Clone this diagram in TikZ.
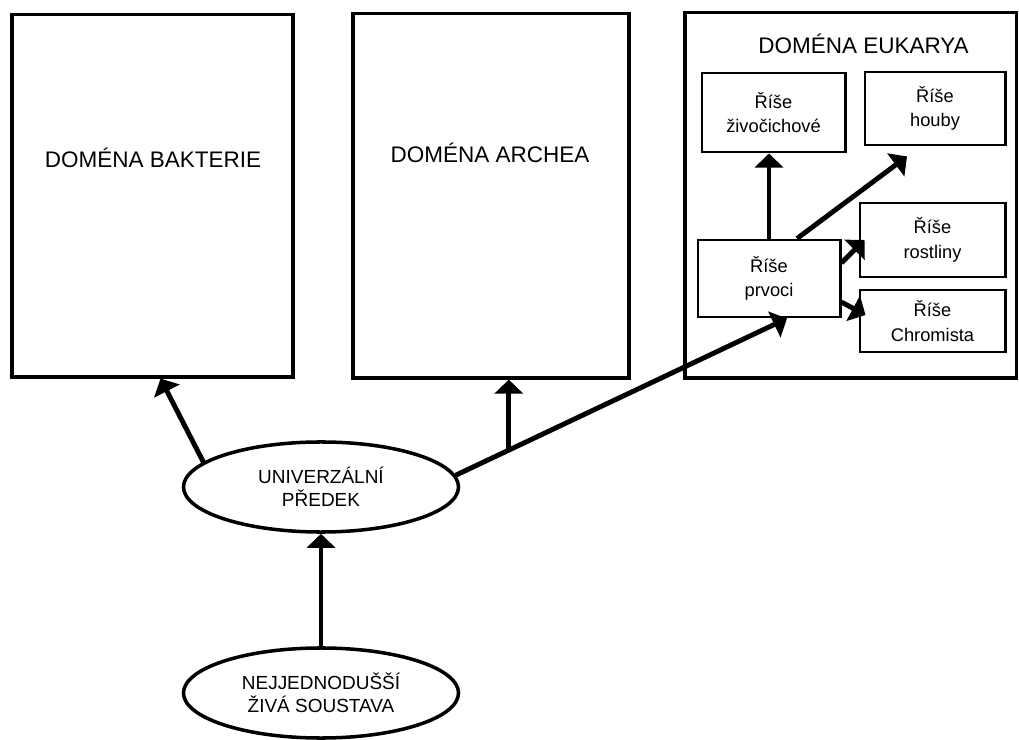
\documentclass[tikz,border=0pt]{standalone}
\usepackage{fontspec}
\setmainfont{Liberation Sans}
\usetikzlibrary{arrows.meta,shapes.geometric,calc}
\begin{document}
\begin{tikzpicture}[x=0.025cm,y=-0.025cm,
		dombox/.style={draw,line width=2.2pt,inner sep=0pt},
		kbox/.style={draw,line width=2.1pt,align=center,inner sep=0pt,font=\fontsize{13}{17.5}\selectfont},
		oval/.style={ellipse,draw,line width=2.5pt,minimum width=6.875cm,minimum height=2.25cm,inner sep=0pt,align=center,font=\fontsize{13.5}{16.5}\selectfont},
		dtitle/.style={font=\fontsize{16}{19}\selectfont},
		arr/.style={line width=3.5pt,-{Triangle[length=10pt,width=20pt]}}]
		\useasboundingbox (0,0) rectangle (1019,740);
		% domains
		\node[dombox,minimum width=7.025cm,minimum height=9.05cm] (bak) at (152.5,196) {};
		\node[dombox,minimum width=6.9cm,minimum height=9.1cm] (arc) at (491,196) {};
		\node[dombox,minimum width=8.275cm,minimum height=9.125cm] (euk) at (850.5,195.5) {};
		\node[dtitle] (bakt) at (153,158) {DOMÉNA BAKTERIE};
		\node[dtitle] (arct) at (490,153) {DOMÉNA ARCHEA};
		\node[dtitle] (eukt) at (863.5,44) {DOMÉNA EUKARYA};
		% kingdoms
		\node[kbox,minimum width=3.575cm,minimum height=1.975cm] (zi) at (773.5,112.5) {Říše\\živočichové};
		\node[kbox,minimum width=3.5cm,minimum height=1.825cm] (ho) at (935,108.5) {Říše\\houby};
		\node[kbox,minimum width=3.625cm,minimum height=1.85cm] (ro) at (932.5,240) {Říše\\rostliny};
		\node[kbox,minimum width=3.55cm,minimum height=1.925cm] (pr) at (769,278.5) {Říše\\prvoci};
		\node[kbox,minimum width=3.625cm,minimum height=1.55cm] (ch) at (932.5,321) {Říše\\Chromista};
		% ancestors
		\node[oval] (un) at (321,487) {UNIVERZÁLNÍ\\PŘEDEK};
		\node[oval] (ne) at (321,693) {NEJJEDNODUŠŠÍ\\ŽIVÁ SOUSTAVA};
		\coordinate (pin) at ([xshift=0.45cm]pr.south);
		\coordinate (fork) at ($(un.5)!0.16!(pin)$);
		\draw[arr] (ne) -- (un);
		\draw[arr] (un.168) -- ([xshift=0.2cm]bak.south);
		\draw[arr] (un.5) -- (pin);
		\draw[arr] (fork) -- (fork |- arc.south);
		\draw[arr] (pr.north) -- (pr.north |- zi.south);
		\draw[arr] ([xshift=0.7cm]pr.north) -- ([xshift=-0.7cm,yshift=-0.25cm]ho.south);
		\draw[arr] ([yshift=0.39cm]pr.east) -- ([xshift=0.15cm]ro.west);
		\draw[arr] ([yshift=-0.59cm]pr.east) -- ([xshift=0.175cm,yshift=0.15cm]ch.west);
\end{tikzpicture}
\end{document}
